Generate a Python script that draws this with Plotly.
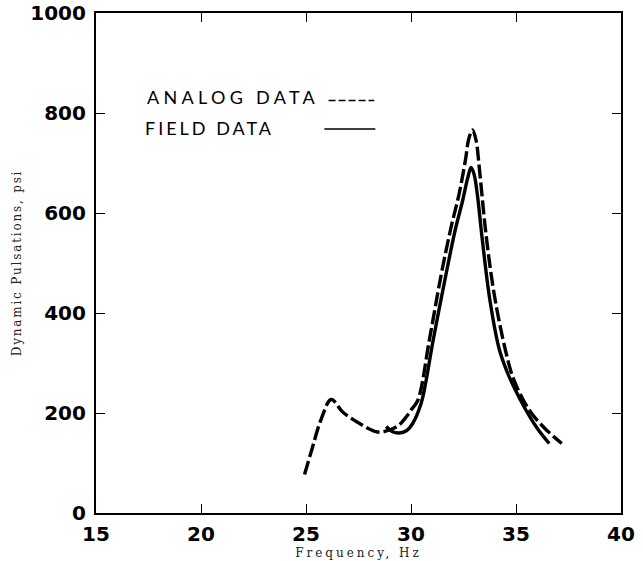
import plotly.graph_objects as go

# Analog data (dashed)
analog_freq = [24.93, 25.3, 25.7, 26.2, 26.75, 27.55, 28.42, 28.97, 29.4, 29.77, 30.0, 30.32,
               30.87, 31.43, 31.9, 32.3, 32.6, 32.75, 32.93, 33.1, 33.25, 33.57, 33.96, 34.5,
               34.91, 35.63, 36.4, 37.18]
analog_psi = [77, 130, 185, 227, 202, 179, 162, 166, 175, 192, 206, 225,
              345, 475, 570, 640, 708, 748, 766, 745, 691, 558, 438, 325,
              265, 206, 168, 139]

# Field data (solid)
field_freq = [28.82, 29.1, 29.45, 29.8, 30.08, 30.48, 30.72, 31.03, 31.67, 32.1, 32.46, 32.7, 32.86,
              33.0, 33.15, 33.4, 33.76, 34.2, 34.55, 34.9, 35.47, 36.0, 36.58]
field_psi = [173, 163, 160, 165, 179, 219, 265, 340, 478, 565, 625, 670, 691,
             678, 640, 545, 425, 328, 285, 252, 206, 170, 139]

x_ticks = [15, 20, 25, 30, 35, 40]
y_ticks = [0, 200, 400, 600, 800, 1000]

fig = go.Figure()
fig.add_trace(go.Scatter(x=analog_freq, y=analog_psi, mode="lines", name="ANALOG DATA",
                         line=dict(color="black", width=3.4, dash="14px,4px", shape="spline", smoothing=1.0)))
fig.add_trace(go.Scatter(x=field_freq, y=field_psi, mode="lines", name="FIELD DATA",
                         line=dict(color="black", width=3.4, shape="spline", smoothing=1.0)))

tickfont = dict(family="DejaVu Sans", size=20, color="black", weight="bold")
common = dict(ticks="inside", ticklen=9, tickwidth=1.3, tickcolor="black", showline=True,
              linecolor="black", linewidth=2.2, mirror="ticks", showgrid=False, zeroline=False,
              tickfont=tickfont, automargin=False)
fig.update_xaxes(range=[15, 40], tickvals=x_ticks, ticklabelstandoff=2,
                 title=dict(text='<span style="letter-spacing:3px">Frequency, Hz</span>',
                            font=dict(family="DejaVu Serif", size=12, color="#222"), standoff=3),
                 **common)
fig.update_yaxes(range=[0, 1000], tickvals=y_ticks, ticklabelstandoff=4,
                 title=dict(text='<span style="letter-spacing:1.8px">Dynamic Pulsations, psi</span>',
                            font=dict(family="DejaVu Serif", size=12, color="#222"), standoff=6),
                 **common)

legfont = dict(family="Lato", size=18, color="black")
fig.add_annotation(x=0.093, y=0.832, xref="paper", yref="paper",
                   text='<span style="letter-spacing:4.3px">ANALOG DATA</span>',
                   showarrow=False, xanchor="left", yanchor="middle", font=legfont)
fig.add_annotation(x=0.089, y=0.770, xref="paper", yref="paper",
                   text='<span style="letter-spacing:3px">FIELD DATA</span>',
                   showarrow=False, xanchor="left", yanchor="middle", font=legfont)
fig.add_shape(type="line", xref="paper", yref="paper", x0=0.443, x1=0.530, y0=0.825, y1=0.825,
              line=dict(color="black", width=1.5, dash="7px,3px"))
fig.add_shape(type="line", xref="paper", yref="paper", x0=0.435, x1=0.532, y0=0.768, y1=0.768,
              line=dict(color="black", width=1.5))

fig.update_layout(width=643, height=561, margin=dict(l=96, r=22, t=13, b=48, autoexpand=False),
                  paper_bgcolor="white", plot_bgcolor="white", showlegend=False)

fig.write_html("out.html", config={"displayModeBar": False},
               post_script="document.body.style.margin='0';document.body.style.padding='0';")
